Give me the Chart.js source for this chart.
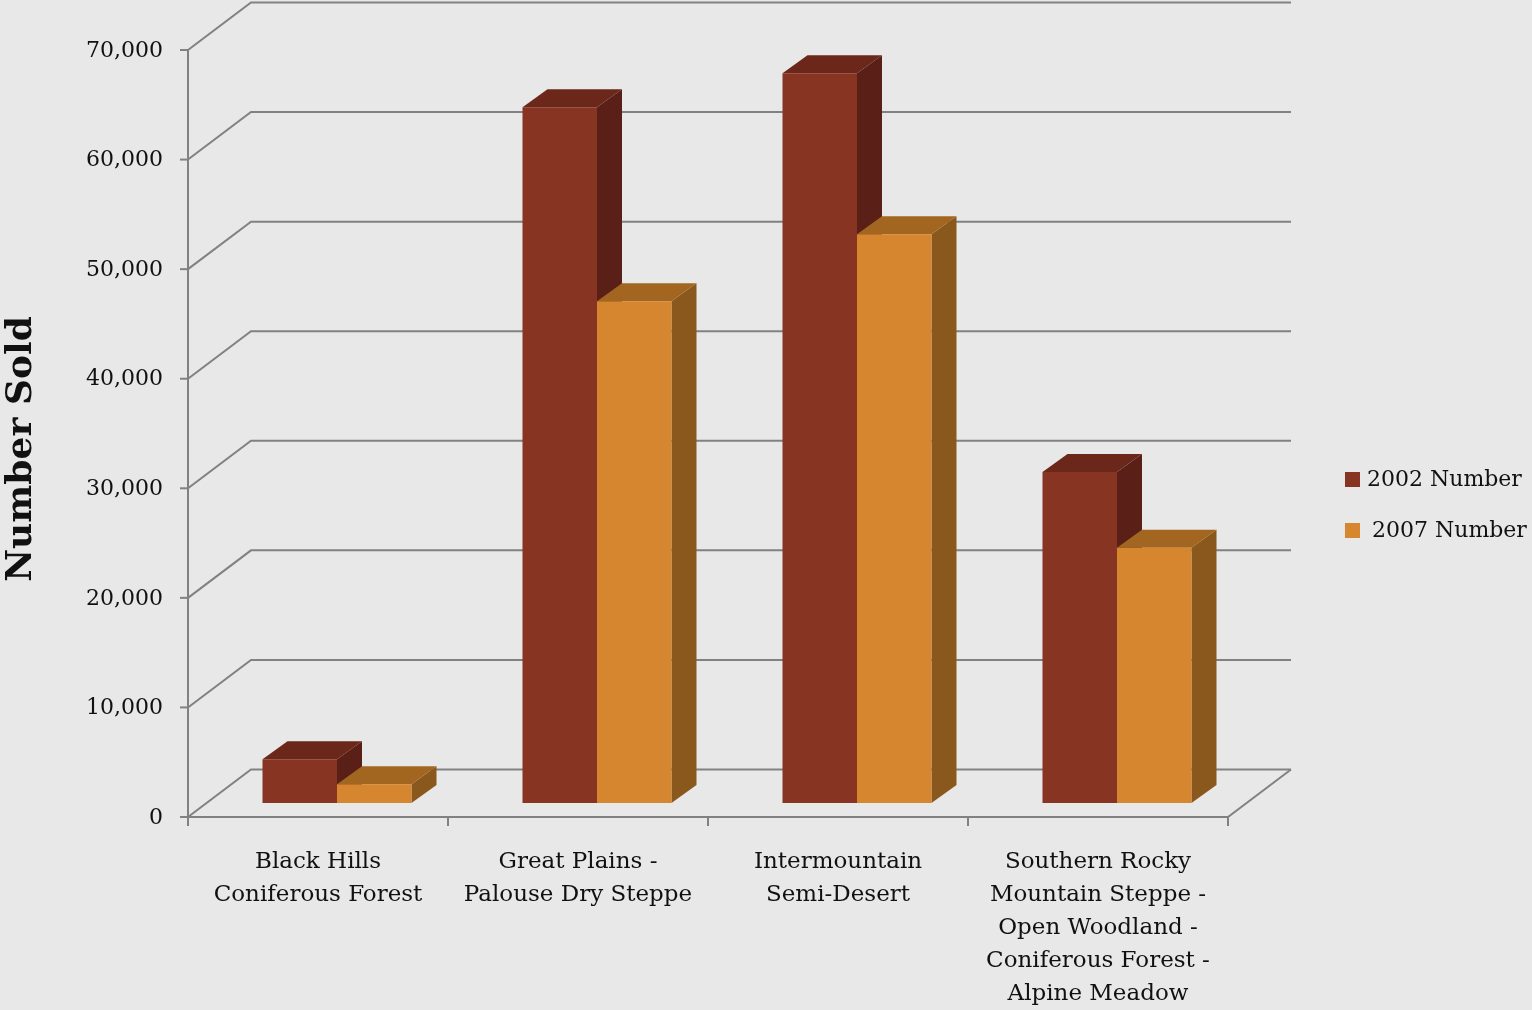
<!DOCTYPE html>
<html>
<head>
<meta charset="utf-8">
<script src="https://cdn.jsdelivr.net/npm/chart.js@4.4.1/dist/chart.umd.min.js"></script>
<style>
  html, body { margin: 0; padding: 0; background: #e8e8e8; }
  #wrap { width: 1532px; height: 1010px; position: relative; }
</style>
</head>
<body>
<div id="wrap"><canvas id="chart"></canvas></div>
<script>
const categories = [
    ['Black Hills', 'Coniferous Forest'],
    ['Great Plains -', 'Palouse Dry Steppe'],
    ['Intermountain', 'Semi-Desert'],
    ['Southern Rocky', 'Mountain Steppe -', 'Open Woodland -', 'Coniferous Forest -', 'Alpine Meadow']
];
const seriesNames = ['2002 Number', '2007 Number'];
const values2002 = [4000, 63500, 66600, 30200];
const values2007 = [1700, 45800, 51900, 23300];
const yTicks = [0, 10000, 20000, 30000, 40000, 50000, 60000, 70000];

// front / side / top shades per series
const frontColors = ['#873422', '#d6862f'];
const sideColors = ['#5a1f17', '#8a571c'];
const topColors = ['#6b281a', '#a36621'];

const FONT = '"DejaVu Serif", serif';
// 3d offsets relative to the plane of the bar fronts
const DEPTH = { dx: 25, dy: -18 };
const FRONT = { dx: -19, dy: 14 };
const BACK = { dx: 44, dy: -33.5 };

const fake3d = {
    id: 'fake3d',
    beforeDatasetsDraw(chart) {
        const ctx = chart.ctx;
        const y = chart.scales.y;
        const { left, right, top, bottom } = chart.chartArea;
        ctx.save();
        ctx.strokeStyle = '#818181';
        ctx.lineWidth = 2;

        yTicks.forEach(v => {
            const py = y.getPixelForValue(v);
            ctx.beginPath();
            ctx.moveTo(left + FRONT.dx, py + FRONT.dy);
            ctx.lineTo(left + BACK.dx, py + BACK.dy);
            ctx.lineTo(right + BACK.dx, py + BACK.dy);
            ctx.stroke();
            // tick mark on front axis
            ctx.beginPath();
            ctx.moveTo(left + FRONT.dx - 8, py + FRONT.dy);
            ctx.lineTo(left + FRONT.dx, py + FRONT.dy);
            ctx.stroke();
        });

        // floor front edge + right edge
        ctx.beginPath();
        ctx.moveTo(left + FRONT.dx, bottom + FRONT.dy);
        ctx.lineTo(right + FRONT.dx, bottom + FRONT.dy);
        ctx.lineTo(right + BACK.dx, bottom + BACK.dy);
        ctx.stroke();

        // front value axis
        ctx.beginPath();
        ctx.moveTo(left + FRONT.dx, top + FRONT.dy);
        ctx.lineTo(left + FRONT.dx, bottom + FRONT.dy);
        ctx.stroke();

        // category tick marks
        const step = (right - left) / categories.length;
        for (let i = 0; i <= categories.length; i++) {
            const px = left + i * step + FRONT.dx;
            ctx.beginPath();
            ctx.moveTo(px, bottom + FRONT.dy);
            ctx.lineTo(px, bottom + FRONT.dy + 9);
            ctx.stroke();
        }

        // sides and tops of bars, in drawing order
        for (let j = 0; j < categories.length; j++) {
            chart.data.datasets.forEach((ds, i) => {
                const bar = chart.getDatasetMeta(i).data[j];
                const p = bar.getProps(['x', 'y', 'width', 'base'], true);
                const l = p.x - p.width / 2, r = p.x + p.width / 2;
                ctx.fillStyle = sideColors[i];
                ctx.beginPath();
                ctx.moveTo(r, p.y);
                ctx.lineTo(r + DEPTH.dx, p.y + DEPTH.dy);
                ctx.lineTo(r + DEPTH.dx, p.base + DEPTH.dy);
                ctx.lineTo(r, p.base);
                ctx.closePath();
                ctx.fill();
                ctx.fillStyle = topColors[i];
                ctx.beginPath();
                ctx.moveTo(l, p.y);
                ctx.lineTo(r, p.y);
                ctx.lineTo(r + DEPTH.dx, p.y + DEPTH.dy);
                ctx.lineTo(l + DEPTH.dx, p.y + DEPTH.dy);
                ctx.closePath();
                ctx.fill();
            });
        }
        ctx.restore();
    },
    afterDraw(chart) {
        const ctx = chart.ctx;
        ctx.save();
        // axis title
        ctx.translate(22, 449);
        ctx.rotate(-Math.PI / 2);
        ctx.font = 'bold 36px ' + FONT;
        ctx.fillStyle = '#111';
        ctx.textAlign = 'center';
        ctx.textBaseline = 'middle';
        ctx.fillText('Number Sold', 0, 0);
        ctx.restore();

        // legend
        ctx.save();
        ctx.font = '22px ' + FONT;
        ctx.textBaseline = 'middle';
        const rows = [{ y: 479, tx: 1367 }, { y: 530, tx: 1372 }];
        chart.data.datasets.forEach((ds, i) => {
            ctx.fillStyle = frontColors[i];
            ctx.fillRect(1345, rows[i].y - 7, 15, 15);
            ctx.fillStyle = '#111';
            ctx.fillText(ds.label, rows[i].tx, rows[i].y + 1);
        });
        ctx.restore();
    }
};

new Chart(document.getElementById('chart'), {
    type: 'bar',
    data: {
        labels: categories,
        datasets: [
            { label: seriesNames[0], data: values2002, backgroundColor: frontColors[0] },
            { label: seriesNames[1], data: values2007, backgroundColor: frontColors[1] }
        ]
    },
    options: {
        animation: false,
        responsive: true,
        maintainAspectRatio: false,
        layout: { padding: { left: 0, top: 36, right: 285, bottom: 0 } },
        datasets: { bar: { barPercentage: 1, categoryPercentage: 0.573, borderWidth: 0 } },
        scales: {
            x: {
                grid: { display: false },
                border: { display: false },
                ticks: {
                    font: { family: FONT, size: 23, lineHeight: 1.43 },
                    color: '#111',
                    maxRotation: 0,
                    autoSkip: false,
                    labelOffset: -19,
                    padding: 35
                },
                afterFit(scale) {
                    scale.height = 207;
                    scale.paddingLeft = 0;
                    scale.paddingRight = 0;
                }
            },
            y: {
                min: 0,
                max: 70000,
                grid: { display: false },
                border: { display: false },
                ticks: {
                    stepSize: 10000,
                    font: { family: FONT, size: 22 },
                    color: '#111',
                    labelOffset: 15,
                    padding: 36,
                    callback: v => v.toLocaleString('en-US')
                },
                afterFit(scale) {
                    scale.width = 207;
                    scale.paddingTop = 0;
                    scale.paddingBottom = 0;
                }
            }
        },
        plugins: {
            legend: { display: false },
            tooltip: { enabled: false }
        }
    },
    plugins: [fake3d]
});
</script>
</body>
</html>
